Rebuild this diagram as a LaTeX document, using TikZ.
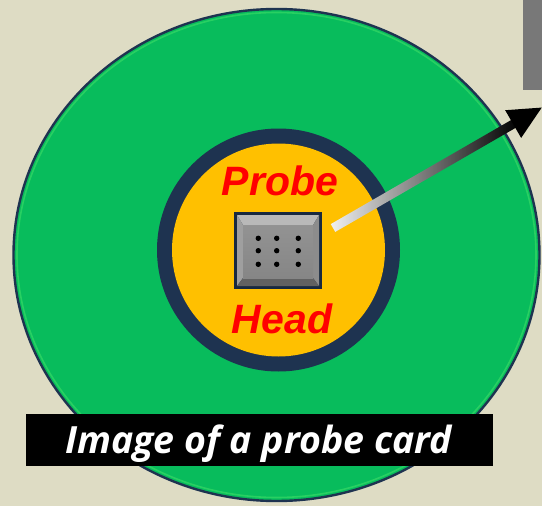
\documentclass[tikz,border=0pt]{standalone}
\usepackage{fontspec}
\setmainfont{Liberation Sans}
\newfontfamily\labelfont{Open Sans}
\definecolor{bgc}{HTML}{DEDCC4}
\definecolor{cardgreen}{HTML}{08BC5C}
\definecolor{navyc}{HTML}{1E3350}
\definecolor{headyellow}{HTML}{FFC000}
\definecolor{barGray}{HTML}{787878}
\begin{document}
\begin{tikzpicture}[x=1pt,y=-1pt,
  headtext/.style={font=\fontsize{41}{41}\selectfont\bfseries\itshape, text=red, inner sep=0, anchor=base},
  dotc/.style={fill=black}]
\useasboundingbox (0,0) rectangle (542,506);
\fill[bgc] (0,0) rectangle (542,506);
% gray bar top right
\fill[barGray] (523,-1) rectangle (543,90);
% probe card
\filldraw[fill=cardgreen, draw=navyc, line width=2.4] (276.5,255) ellipse [x radius=263, y radius=246];
\draw[green!55!white, line width=1.6, opacity=0.3] (276.5,255) ellipse [x radius=259.5, y radius=242.5];
% probe head ring
\node[circle, fill=navyc, minimum size=243, inner sep=0] (ring) at (278.5,250) {};
\node[circle, fill=headyellow, minimum size=213, inner sep=0] (head) at (278.5,250) {};
% chip
\node[fill=navyc!80!black, minimum width=88, minimum height=77, inner sep=0] (chip) at (278,250.5) {};
\fill[gray!55] (237,215) -- (319,215) -- (313,225) -- (243,225) -- cycle;
\fill[gray!75] (237,215) -- (243,225) -- (243,278) -- (237,286) -- cycle;
\fill[gray!100!black!90] (319,215) -- (319,286) -- (313,278) -- (313,225) -- cycle;
\fill[black!62] (237,286) -- (319,286) -- (313,278) -- (243,278) -- cycle;
\shade[top color=gray!85, bottom color=gray!100!black!95] (243,225) rectangle (313,278);
\foreach \xx in {258.3,276.7,298.3}
  \foreach \yy in {238.3,250.7,264.3}
    \fill[dotc] (\xx,\yy) circle [radius=2.7];
% labels
\node[headtext] (probe) at (280,195) {Probe};
\node[headtext] (headlbl) at (282,333) {Head};
% arrow
\coordinate (aS) at (333,228);
\coordinate (aE) at (541,108);
\begin{scope}[shift={(aS)}, rotate=29.98]
  \shade[left color=gray!12, middle color=gray!90, right color=black] (0,-4.5) rectangle (212,4.5);
  \fill[black] (208,-16) -- (241,0) -- (208,16) -- cycle;
\end{scope}
% caption
\node[fill=black, minimum width=467, minimum height=52, inner sep=0] (capbox) at (259.5,440) {};
\node[anchor=base, text=white, inner sep=0, font=\labelfont\fontsize{37.5}{37.5}\selectfont\bfseries\itshape] (caption) at (258.5,453) {Image of a probe card};
\end{tikzpicture}
\end{document}
